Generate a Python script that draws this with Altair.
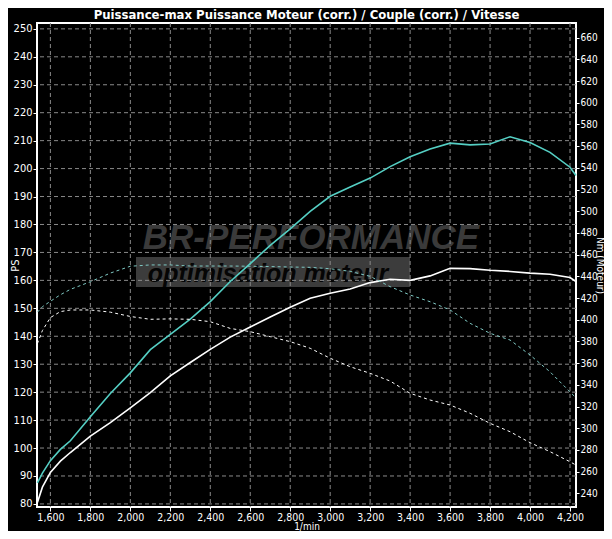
import altair as alt
import pandas as pd

rpm = [1535, 1560, 1600, 1650, 1700, 1800, 1900, 2000, 2100, 2200, 2300, 2400, 2500, 2600,
       2700, 2800, 2900, 3000, 3100, 3200, 3300, 3400, 3500, 3600, 3700, 3800, 3900, 4000,
       4100, 4200, 4230]
power_tuned = [87.5, 91, 95.5, 99.5, 102.6, 111.2, 119.5, 126.9, 135.2, 140.7, 146.1, 152.4,
               159.6, 166.0, 172.5, 178.4, 184.7, 190.1, 193.4, 196.6, 200.7, 204.2, 207.0,
               209.1, 208.5, 208.8, 211.4, 209.3, 205.8, 200.5, 197.5]
power_stock = [80.5, 86, 91.3, 95.3, 98.4, 104.3, 109.1, 114.4, 119.8, 125.8, 130.6, 135.3,
               139.7, 143.3, 146.9, 150.4, 153.6, 155.4, 156.9, 159.2, 160.4, 160.0, 161.6,
               164.3, 164.2, 163.6, 163.2, 162.6, 162.2, 161.0, 159.6]
torque_tuned = [407, 412, 417, 423, 428, 435, 443, 449.3, 450.5, 450.5, 449.5, 449.5, 449.5,
                449.3, 449, 448.6, 448.3, 447, 444.6, 440, 430.5, 422.8, 416.6, 409, 396.7,
                387.5, 381.3, 367.5, 352, 333.5, 328]
torque_stock = [378, 390, 402, 407.5, 409, 409, 407, 403, 400.4, 400.8, 400.4, 398.2, 392,
                389, 384.4, 379.8, 373.7, 364.5, 356.7, 350.6, 343.5, 332.2, 326, 321.4,
                313.8, 304.5, 296.8, 286.7, 278.4, 269.1, 266]

ps_ticks = list(range(80, 251, 10))
nm_ticks = list(range(240, 661, 20))
rpm_ticks = list(range(1600, 4201, 200))

title_text = "Puissance-max Puissance Moteur (corr.) / Couple (corr.) / Vitesse"
watermark_big = ["BR-PERFORMANCE"]
watermark_small = ["optimisation moteur"]

W, H = 539, 484
FONT = "Liberation Sans Narrow, DejaVu Sans Condensed, Liberation Sans, sans-serif"
GRID = "#8a8a8a"
CYAN = "#55cfc4"

df = pd.DataFrame({"rpm": rpm, "pt": power_tuned, "ps": power_stock,
                   "tt": torque_tuned, "ts": torque_stock})
ps_df = pd.DataFrame({"v": ps_ticks})
rpm_df = pd.DataFrame({"r": rpm_ticks})

x_scale = alt.Scale(domain=[1533, 4230], nice=False, zero=False)
ps_scale = alt.Scale(domain=[78.9, 252.1], nice=False, zero=False)
nm_scale = alt.Scale(domain=[227.4, 673.5], nice=False, zero=False)

x_axis = alt.Axis(values=rpm_ticks, format=",d", title="1/min", grid=False,
                  labelColor="white", tickColor="white", domainColor="white",
                  titleColor="white", labelFont=FONT, titleFont=FONT, labelFontSize=10.5,
                  titleFontSize=10, titleFontWeight="normal", tickSize=4, labelPadding=1,
                  titlePadding=0, titleY=22, titleBaseline="alphabetic", labelFlush=False)
ps_axis = alt.Axis(values=ps_ticks, title="PS", grid=False, labelColor="white",
                   tickColor="white", domainColor="white", titleColor="white",
                   labelFont=FONT, titleFont=FONT, labelFontSize=11, titleFontSize=11,
                   titleFontWeight="normal", tickSize=4, labelPadding=1,
                   titleX=-22, titleY=H / 2, titleBaseline="middle", titleAngle=270)
nm_axis = alt.Axis(values=nm_ticks, title="Nm (Moteur)", orient="right", grid=False,
                   labelColor="white", tickColor="white", domainColor="white",
                   titleColor="white", labelFont=FONT, titleFont=FONT, labelFontSize=10,
                   titleFontSize=10, titleFontWeight="normal", tickSize=3, labelPadding=1,
                   titleX=23, titleY=H / 2, titleBaseline="middle", titleAngle=90)

X = alt.X("rpm:Q", scale=x_scale, axis=x_axis)

hgrid = alt.Chart(ps_df).mark_rule(color=GRID, strokeDash=[4, 3], strokeWidth=1).encode(
    y=alt.Y("v:Q", scale=ps_scale, axis=ps_axis))
vgrid = alt.Chart(rpm_df).mark_rule(color=GRID, strokeDash=[4, 3], strokeWidth=1).encode(
    x=alt.X("r:Q", scale=x_scale, axis=x_axis))

wm_bar = alt.Chart(pd.DataFrame({"t": watermark_small})).mark_rect(color="#3c3c3c").encode(
    x=alt.value(99), x2=alt.value(373), y=alt.value(234), y2=alt.value(264))
wm_big = alt.Chart(pd.DataFrame({"t": watermark_big})).mark_text(
    font="Liberation Sans", fontSize=35, fontWeight="bold", fontStyle="italic",
    color="#3a3a3a", align="center", baseline="alphabetic").encode(
    x=alt.value(274), y=alt.value(226), text="t:N")
wm_small = alt.Chart(pd.DataFrame({"t": watermark_small})).mark_text(
    font="Liberation Sans", fontSize=25, fontWeight="bold", fontStyle="italic",
    color="#050505", align="center", baseline="alphabetic").encode(
    x=alt.value(231), y=alt.value(259), text="t:N")

p_tuned = alt.Chart(df).mark_line(color=CYAN, strokeWidth=1.6).encode(
    x=X, y=alt.Y("pt:Q", scale=ps_scale, axis=ps_axis))
p_stock = alt.Chart(df).mark_line(color="white", strokeWidth=1.6).encode(
    x=X, y=alt.Y("ps:Q", scale=ps_scale, axis=ps_axis))

t_tuned = alt.Chart(df).mark_line(color="#7fc9c4", strokeWidth=1, strokeDash=[3, 3]).encode(
    x=X, y=alt.Y("tt:Q", scale=nm_scale, axis=nm_axis))
t_stock = alt.Chart(df).mark_line(color="white", strokeWidth=1, strokeDash=[3, 3]).encode(
    x=X, y=alt.Y("ts:Q", scale=nm_scale, axis=nm_axis))

left = alt.layer(wm_bar, wm_big, wm_small, hgrid, vgrid, p_tuned, p_stock)
right = alt.layer(t_tuned, t_stock)

chart = alt.layer(left, right).resolve_scale(y="independent").properties(
    width=W, height=H,
    title=alt.TitleParams(title_text, color="white", font=FONT, fontSize=13,
                          fontWeight="bold", anchor="middle", offset=1),
    background="black",
    autosize=alt.AutoSizeParams(type="none"),
    padding={"left": 29, "top": 15, "right": 28, "bottom": 24},
).configure_view(stroke="white", strokeWidth=2, fill="black")

chart.save("out.html", embed_options={"renderer": "svg", "actions": False})
